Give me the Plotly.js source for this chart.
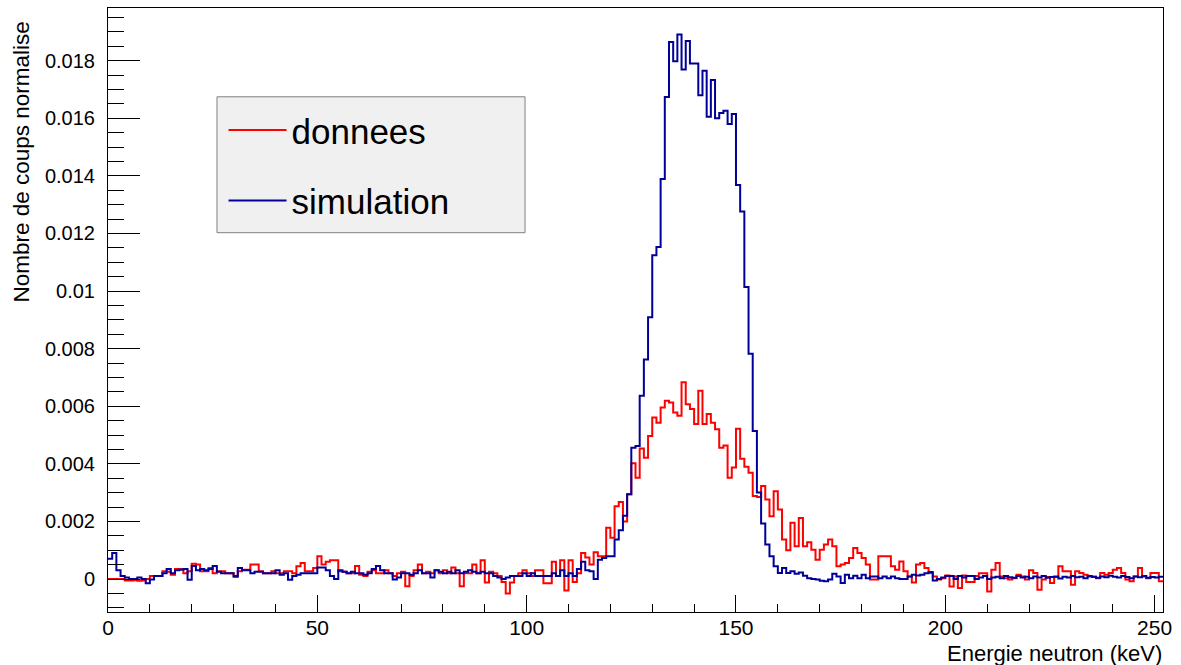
<!DOCTYPE html>
<html><head><meta charset="utf-8">
<script src="https://cdn.plot.ly/plotly-3.0.1.min.js"></script>
<style>html,body{margin:0;padding:0;background:#fff;} #chart{width:1181px;height:665px;}</style>
</head><body><div id="chart"></div>
<script>
// Histogram binning (keV)
const binLowEdge = 0;
const binWidth = 1;

// Series names
const seriesNames = ['donnees', 'simulation'];

// Bin contents, bins 0..251 (1 keV each)
const donnees = [
 0, 0, 0, 0, -0.00005, -0.00005, -0.00004, -0.00006, -0.00005, 0.0,
 0.0001, 0.0001, 0.0001, 0.00027, 0.00025, 0.00015, 0.00035, 0.00035, 0.0002, 0.00027,
 0.00053, 0.0005, 0.00027, 0.00027, 0.00038, 0.0002, 0.00027, 0.00027, 0.0002, 0.0002,
 0.00007, 0.00027, 0.00032, 0.00032, 0.0005, 0.0005, 0.00027, 0.0002, 0.0002, 0.00027,
 0.0002, 0.0002, 0.00027, 0.00027, 0.0002, 0.00044, 0.00056, 0.00027, 0.00027, 0.00038,
 0.00079, 0.0005, 0.0006, 0.00065, 0.00065, 0.00027, 0.00025, 0.0002, 0.0002, 0.00045,
 0.00015, 0.0001, 0.00025, 0.0003, 0.0002, 0.0002, 0.0003, 0.0002, 0.0001, 0.0002,
 0.00025, -0.00025, 0.0001, 0.0003, 0.0005, 0.0002, 0.00025, 0.0002, 0.0003, 0.0002,
 0.0003, 0.0002, 0.0004, 0.0002, -0.00025, 0.0002, 0.0002, 0.0005, 0.0002, 0.00065,
 -0.00012, 0.00025, 0.0002, 0.0001, -0.0001, -0.0005, -0.00012, 0.0001, 0.0002, 0.0003,
 0.0002, 0.0001, 0.0003, 0.0003, -0.00015, -0.00015, 0.0006, 0.0001, 0.00065, -0.0004,
 0.00065, -0.0001, 0.0002, 0.0009, 0.00075, 0.0005, 0.00093, 0.00079, 0.00079, 0.00178,
 0.00143, 0.00253, 0.00267, 0.002, 0.00294, 0.00402, 0.00352, 0.00453, 0.00421, 0.00497,
 0.00561, 0.00543, 0.00596, 0.00619, 0.00613, 0.00578, 0.00567, 0.00683, 0.00607, 0.0059,
 0.00538, 0.00654, 0.00538, 0.00573, 0.00543, 0.0052, 0.00456, 0.00464, 0.00352, 0.00387,
 0.00522, 0.00418, 0.0039, 0.00369, 0.00288, 0.00285, 0.00323, 0.00276, 0.00218, 0.00305,
 0.00241, 0.00137, 0.001, 0.00195, 0.00114, 0.00212, 0.00114, 0.00128, 0.00102, 0.00067,
 0.00102, 0.0012, 0.00137, 0.00114, 0.00044, 0.0005, 0.00056, 0.00073, 0.00108, 0.0009,
 0.00073, 0.0005, -0.00002, -0.00002, 0.00079, 0.00079, 0.00079, 0.00044, 0.00032, 0.00061,
 0.00027, 0.00009, -0.00012, 0.0005, 0.00056, 0.00038, 0.00021, 0.00009, -0.00002, 0.00003,
 0.00012, -0.00026, 0.00009, -0.00031, 0.00012, -0.0001, -0.0001, 0.0001, 0.0002, 0.0002,
 -0.00043, 0.00032, 0.00056, 0.00009, 0.00003, -0.00002, 0.00003, 0.00015, 0.00009, -0.00002,
 0.0003, 0.00021, -0.00037, -0.00002, 0.00007, -0.00014, 0.00007, 0.00044, 0.00027, 0.00027,
 -0.0002, 0.00027, 0.00021, 0.00015, 0.00009, 0.00009, 0.00003, 0.00021, 0.00015, 0.00021,
 0.00032, 0.00038, 0.00021, -0.00002, -0.00008, 0.00009, 0.00038, 0.00009, 0.00003, 0.00021,
 0.00021, -0.00008
];

const simulation = [
 0.0007, 0.0009, 0.0003, 0.0001, 0.00005, 0.0, 0.0, 0.00005, 0.0, -0.00015,
 -0.00002, 0.0001, 0.0001, 0.0002, 0.00035, 0.0002, 0.0003, 0.00032, 0.00035, -0.00003,
 0.00045, 0.0003, 0.00035, 0.0003, 0.00035, 0.00045, 0.00025, 0.0002, 0.0002, 0.0002,
 0.0001, 0.00038, 0.0003, 0.0003, 0.0002, 0.00025, 0.00025, 0.0002, 0.0002, 0.0002,
 0.0003, 0.00015, 0.0002, -0.00003, 0.0001, 0.00015, 0.0002, 0.0002, 0.0002, 0.0002,
 0.0004, 0.0004, 0.0003, 0.0001, 0.0, 0.0003, 0.00025, 0.0002, 0.00025, 0.0002,
 0.0002, 0.00015, 0.0002, 0.00035, 0.00045, 0.0003, 0.0002, 0.0002, -0.00002, 0.00005,
 0.0002, 0.0002, 0.00015, 0.0002, 0.0003, 0.0002, 0.0002, 0.00005, 0.0003, 0.00025,
 0.0002, 0.00025, 0.0002, 0.0003, 0.0002, 0.00025, 0.0003, 0.00025, 0.0002, 0.00025,
 0.0002, 0.0002, 0.0001, 0.00005, 0.0, 0.00005, 0.0001, 0.0001, 0.0001, 0.0002,
 0.0001, 0.0002, 0.0001, 0.0001, 0.0001, 0.0001, 0.0002, 0.0001, 0.0003, 0.0001,
 0.0002, 0.0001, 0.00035, 0.0006, 0.0003, 0.00027, 0.0, 0.00067, 0.00073, 0.00079,
 0.00079, 0.00137, 0.00169, 0.0022, 0.00294, 0.00456, 0.00462, 0.00636, 0.00762, 0.00909,
 0.01124, 0.01153, 0.01389, 0.01674, 0.01865, 0.01798, 0.01891, 0.01769, 0.01868, 0.0179,
 0.0179, 0.0168, 0.01765, 0.01605, 0.01733, 0.016, 0.01618, 0.01626, 0.0158, 0.01615,
 0.01368, 0.01276, 0.01014, 0.00782, 0.00514, 0.003, 0.00193, 0.0012, 0.00079, 0.00044,
 0.00021, 0.00038, 0.00021, 0.00027, 0.00018, 0.00023, 0.00011, 0.00003, 0.0, -0.00002,
 -0.00006, -0.00008, -0.00002, 0.00018, 0.00009, -0.00014, 0.00015, 0.00003, 0.00011, 0.00003,
 0.00015, 0.00003, 0.00009, 0.00009, 0.00003, 0.00009, 0.00003, 0.00009, 0.00003, 0.0,
 0.0, 0.00009, 0.00015, 0.00012, 0.00015, 0.0002, 0.00024, -0.00005, 0.0, 0.00005,
 0.0001, 0.0001, 0.0, 0.0001, 0.00005, 0.0001, 0.0001, 0.0, 0.00005, 0.0001,
 0.0, 0.00005, 0.00008, 0.00003, 0.0001, 0.00006, 0.00004, 0.0001, 0.00005, 0.00008,
 0.00003, 0.00009, 0.00005, 0.0001, 0.00004, 0.00007, 0.00009, 0.00002, 0.00008, 0.00005,
 0.0001, 0.00006, 0.00008, 0.00003, 0.0001, 0.00007, 0.00004, 0.00009, 0.00006, 0.00011,
 0.00008, 0.00005, 0.0001, 0.00007, 0.00003, 0.00009, 0.00006, 0.0001, 0.00004, 0.00007,
 0.00005, 0.00008
];

const xTitle = 'Energie neutron (keV)';
const yTitle = 'Nombre de coups normalise';

function binEdges(values) {
  const xs = values.map((_, i) => binLowEdge + i * binWidth);
  xs.push(binLowEdge + values.length * binWidth);
  return xs;
}
function stepValues(values) {
  return values.concat([values[values.length - 1]]);
}

const FONT = 'Liberation Sans, Arial, Helvetica, sans-serif';

const traces = [
  {x: binEdges(donnees), y: stepValues(donnees), name: seriesNames[0], type: 'scatter', mode: 'lines',
   line: {shape: 'hv', color: '#ff0000', width: 2}, legendgroup: 'a'},
  {x: binEdges(simulation), y: stepValues(simulation), name: seriesNames[1], type: 'scatter', mode: 'lines',
   line: {shape: 'hv', color: '#000099', width: 2}, legendgroup: 'b'}
];

const layout = {
  width: 1181, height: 665,
  margin: {l: 108, r: 18, t: 8, b: 53},
  paper_bgcolor: '#ffffff', plot_bgcolor: '#ffffff',
  showlegend: true,
  legend: {x: 0.1095, y: 0.8465, xanchor: 'left', yanchor: 'top',
    bgcolor: 'rgba(0,0,0,0)', borderwidth: 0,
    font: {family: FONT, size: 35, color: '#000'},
    itemwidth: 58, traceorder: 'grouped', tracegroupgap: 22},
  // legend frame (ROOT TLegend box)
  shapes: [
    {type: 'rect', xref: 'paper', yref: 'paper', x0: 0.1033, x1: 0.3953, y0: 0.628, y1: 0.853,
     fillcolor: '#f0f0f0', line: {color: '#808080', width: 1}, layer: 'above'}
  ],
  xaxis: {range: [0, 252], showgrid: false, zeroline: false,
    showline: true, linecolor: '#000', linewidth: 1, mirror: true,
    ticks: 'inside', ticklen: 17, tickwidth: 1, tickcolor: '#000',
    tick0: 0, dtick: 50,
    minor: {ticks: 'inside', dtick: 10, ticklen: 8, tickwidth: 1, tickcolor: '#000', showgrid: false},
    tickfont: {family: FONT, size: 21, color: '#000'}, ticklabelstandoff: -3},
  yaxis: {range: [-0.001146, 0.01983], showgrid: false, zeroline: false,
    showline: true, linecolor: '#000', linewidth: 1, mirror: true,
    ticks: 'inside', ticklen: 32, tickwidth: 1, tickcolor: '#000',
    tick0: 0, dtick: 0.002,
    minor: {ticks: 'inside', dtick: 0.0005, ticklen: 16, tickwidth: 1, tickcolor: '#000', showgrid: false},
    tickfont: {family: FONT, size: 20, color: '#000'}, ticklabelstandoff: 8},
  annotations: [
    {text: xTitle, xref: 'paper', yref: 'paper', x: 1, y: -0.0685, xanchor: 'right', yanchor: 'middle',
     borderpad: 0, showarrow: false, font: {family: FONT, size: 22, color: '#000'}},
    {text: yTitle, xref: 'paper', yref: 'paper', x: -0.0815, y: 0.98, xanchor: 'center', yanchor: 'top',
     textangle: -90, showarrow: false, font: {family: FONT, size: 22.5, color: '#000'}}
  ]
};

Plotly.newPlot('chart', traces, layout, {staticPlot: true, displayModeBar: false});
</script>
</body></html>
